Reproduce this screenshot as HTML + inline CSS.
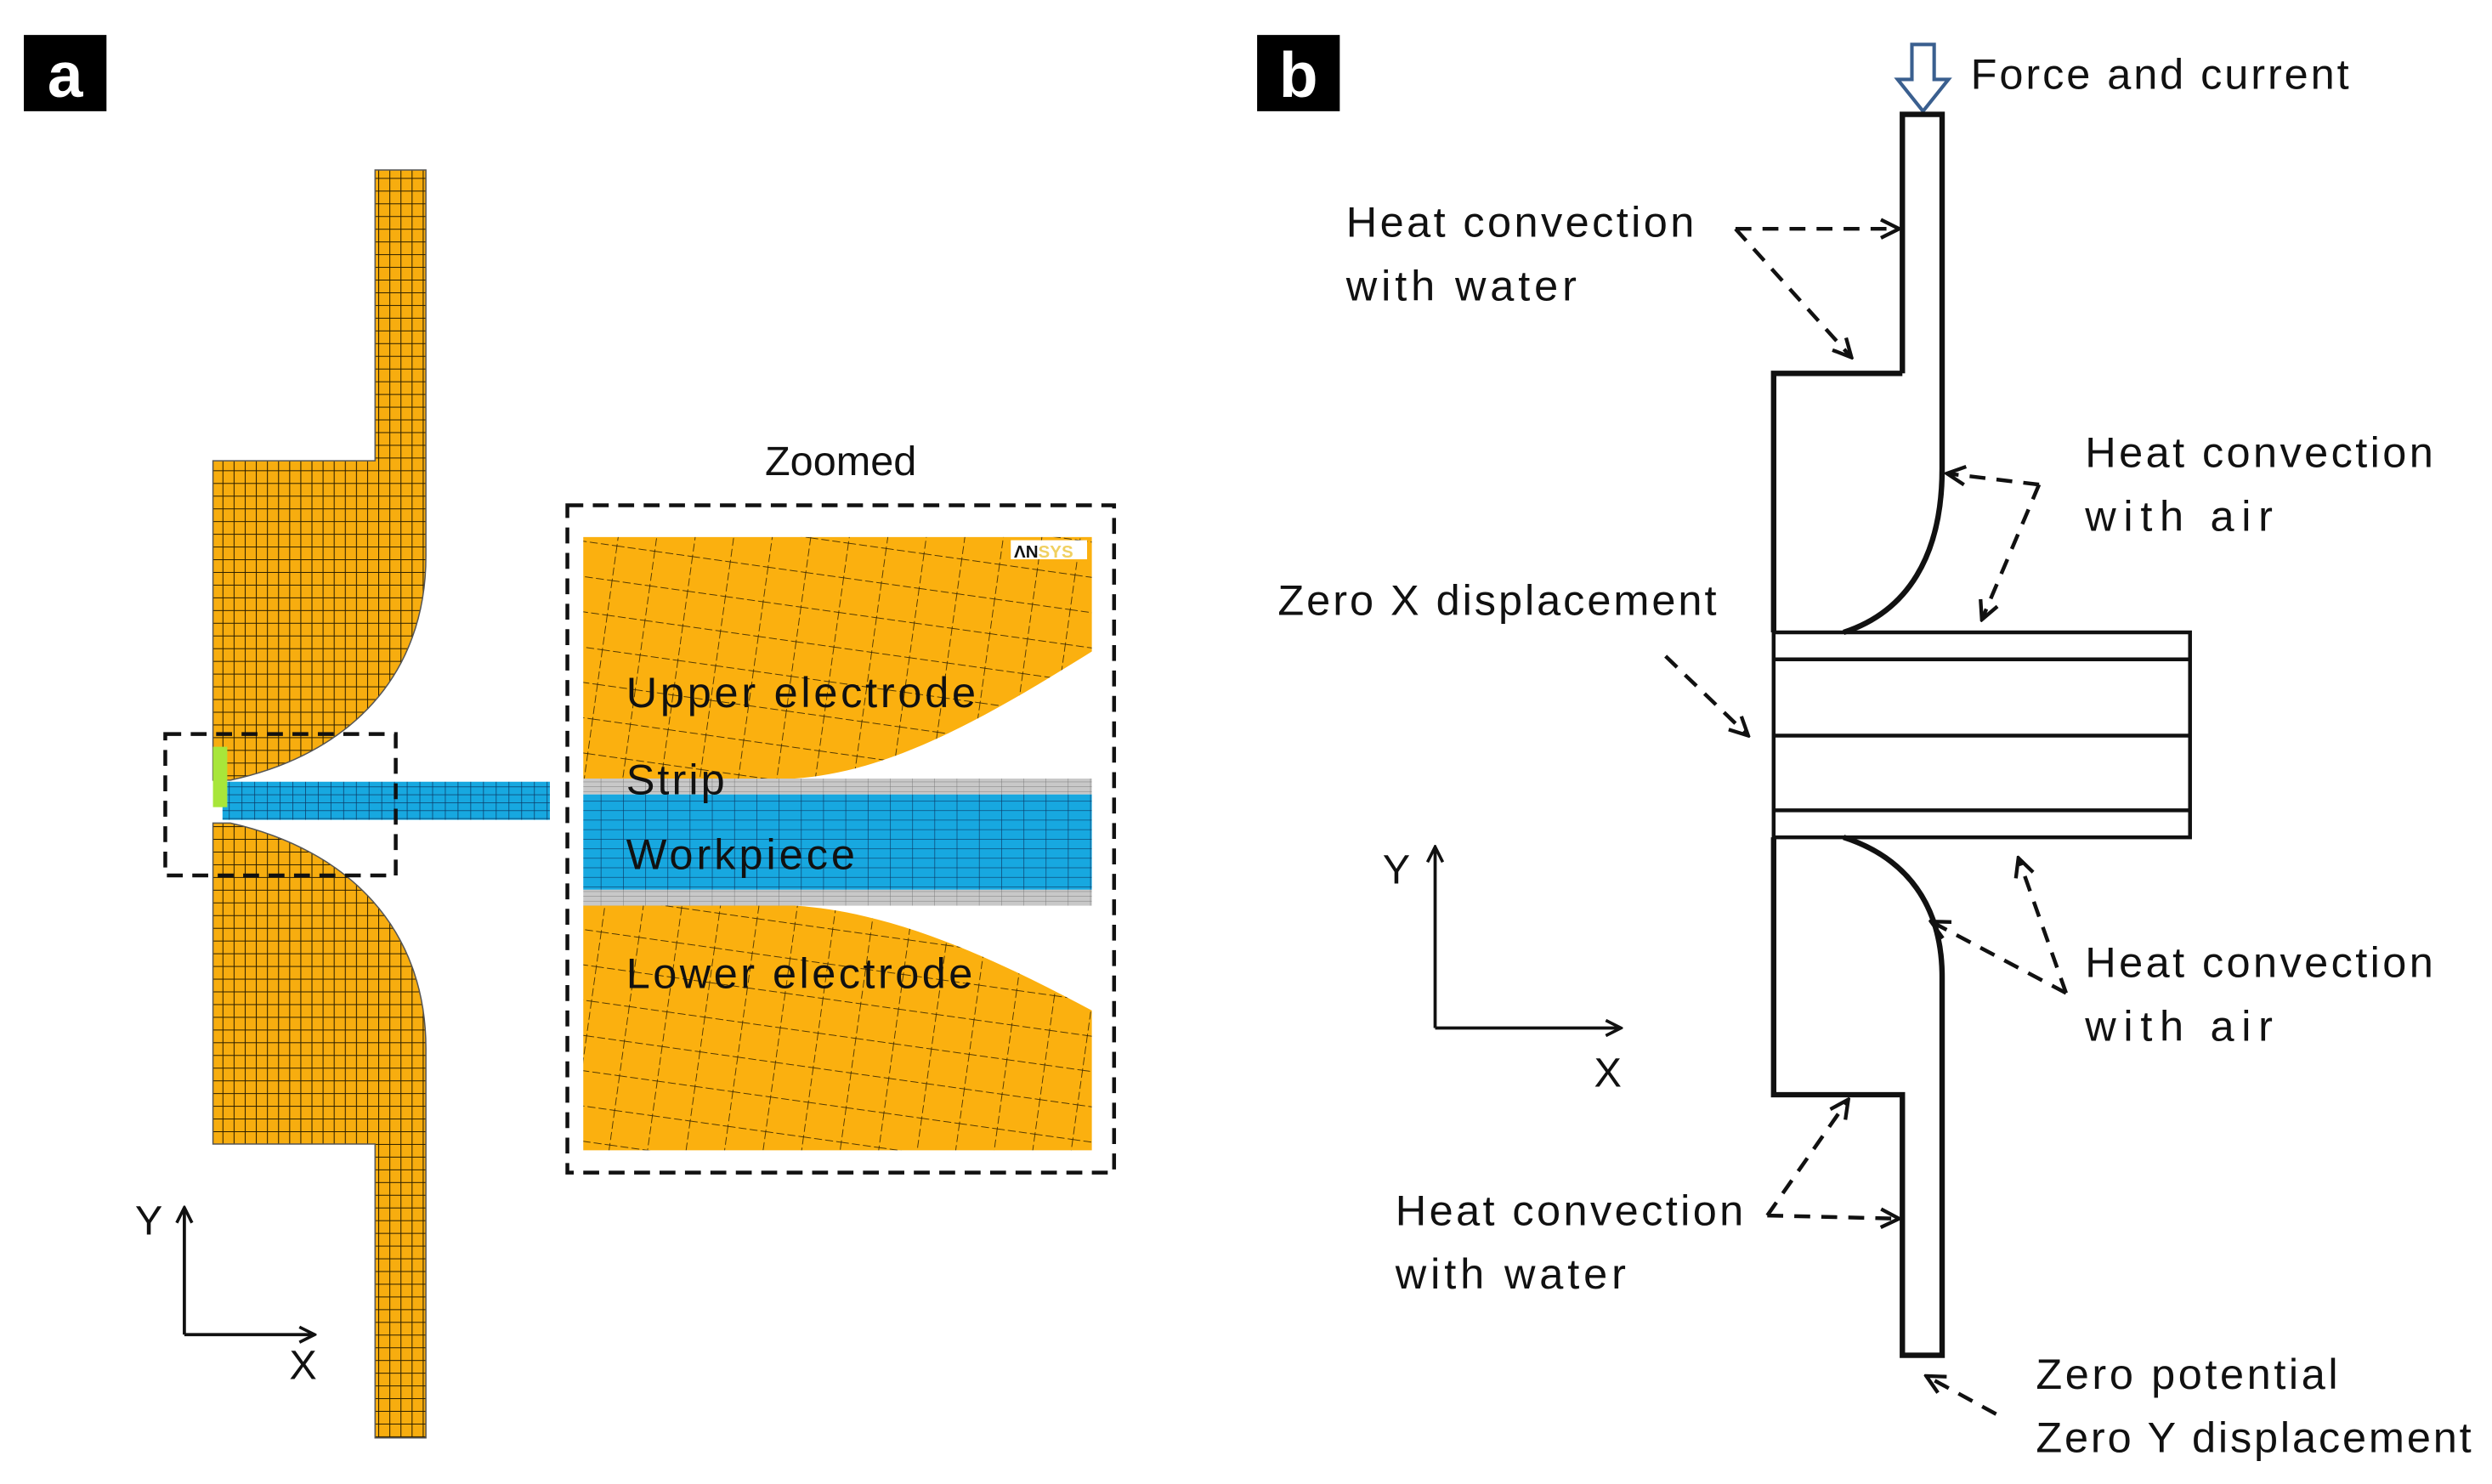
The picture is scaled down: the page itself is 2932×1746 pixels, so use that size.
<!DOCTYPE html>
<html><head><meta charset="utf-8"><style>
html,body{margin:0;padding:0;background:#fff;}
svg{display:block;}
text{font-family:"Liberation Sans",sans-serif;fill:#111;}
</style></head><body>
<svg width="2932" height="1746" viewBox="0 0 1568 934" preserveAspectRatio="none" xmlns="http://www.w3.org/2000/svg">
<defs>
<pattern id="m1" width="7" height="8" patternUnits="userSpaceOnUse">
<rect width="7" height="8" fill="#f7ad0f"/>
<path d="M0 0H7M0 0V8" stroke="#2a1e00" stroke-width="1.1"/>
</pattern>
<pattern id="m2" width="24" height="22" patternUnits="userSpaceOnUse" patternTransform="rotate(8)">
<rect width="24" height="22" fill="#fbb00f"/>
<path d="M0 0H24M0 0V22" stroke="#3a2800" stroke-width="0.9" stroke-dasharray="5 2"/>
</pattern>
<pattern id="mb" width="8" height="5" patternUnits="userSpaceOnUse">
<rect width="8" height="5" fill="#17a8e0"/>
<path d="M0 0H8M0 0V5" stroke="#0b3a66" stroke-width="0.8"/>
</pattern>
<pattern id="mb2" width="14" height="6" patternUnits="userSpaceOnUse">
<rect width="14" height="6" fill="#17a8e0"/>
<path d="M0 0H14M0 0V6" stroke="#0b3a66" stroke-width="0.7"/>
</pattern>
<pattern id="mg" width="14" height="3" patternUnits="userSpaceOnUse">
<rect width="14" height="3" fill="#c8c8c8"/>
<path d="M0 0H14M0 0V3" stroke="#777" stroke-width="0.5"/>
</pattern>
<marker id="ar" viewBox="0 0 10 10" refX="9" refY="5" markerWidth="6" markerHeight="6" orient="auto">
<path d="M1 1L9 5L1 9" fill="none" stroke="#111" stroke-width="1.6"/>
</marker>
</defs>

<!-- Panel a -->
<rect x="15" y="22" width="52" height="48" fill="#000"/>
<text x="41" y="61" font-size="40" font-weight="bold" text-anchor="middle" style="fill:#fff">a</text>

<path d="M236,107 H268 V350 C268,425 220,475 145,491 H134 V290 H236 Z" fill="url(#m1)" stroke="#555" stroke-width="0.8"/>
<path d="M134,518 H145 C220,535 268,585 268,660 V905 H236 V720 H134 Z" fill="url(#m1)" stroke="#555" stroke-width="0.8"/>
<rect x="140" y="492" width="206" height="24" fill="url(#mb)"/>
<rect x="134" y="470" width="9" height="38" fill="#a8e63a"/>
<rect x="104" y="462" width="145" height="89" fill="none" stroke="#111" stroke-width="2.4" stroke-dasharray="10 6"/>

<text x="529" y="299" font-size="26" text-anchor="middle">Zoomed</text>
<rect x="357" y="318" width="344" height="420" fill="none" stroke="#111" stroke-width="2.4" stroke-dasharray="10 6"/>
<path d="M367,338 H687 V410 C620,452 560,486 500,490 H367 Z" fill="url(#m2)"/>
<path d="M367,570 H500 C560,574 620,600 687,636 V724 H367 Z" fill="url(#m2)"/>
<rect x="367" y="490" width="320" height="10" fill="url(#mg)"/>
<rect x="367" y="500" width="320" height="60" fill="url(#mb2)"/>
<rect x="367" y="560" width="320" height="10" fill="url(#mg)"/>
<rect x="636" y="340" width="48" height="12" fill="#fff"/>
<text x="638" y="351" font-size="11" font-weight="bold">ΛN<tspan style="fill:#f0d060">SYS</tspan></text>
<text x="394" y="445" font-size="27" textLength="220">Upper electrode</text>
<text x="394" y="500" font-size="27" textLength="62">Strip</text>
<text x="394" y="547" font-size="27" textLength="144">Workpiece</text>
<text x="394" y="622" font-size="27" textLength="218">Lower electrode</text>

<line x1="116" y1="840" x2="116" y2="760" stroke="#111" stroke-width="2" marker-end="url(#ar)"/>
<line x1="116" y1="840" x2="198" y2="840" stroke="#111" stroke-width="2" marker-end="url(#ar)"/>
<text x="85" y="777" font-size="26">Y</text>
<text x="182" y="868" font-size="26">X</text>

<!-- Panel b -->
<rect x="791" y="22" width="52" height="48" fill="#000"/>
<text x="817" y="61" font-size="40" font-weight="bold" text-anchor="middle" style="fill:#fff">b</text>

<path d="M1203,28 H1217 V50 H1226 L1210,70 L1194,50 H1203 Z" fill="#fff" stroke="#3a5f8f" stroke-width="2.2"/>
<text x="1240" y="56" font-size="27" textLength="238">Force and current</text>

<g fill="none" stroke="#111" stroke-width="3.4">
<path d="M1197,235 V72 H1222 V295 C1222,350 1200,385 1160,398"/>
<path d="M1197,235 H1116 V398"/>
<path d="M1160,527 C1200,540 1222,570 1222,615 V853 H1197 V689 H1116 V527"/>
</g>
<g fill="none" stroke="#111" stroke-width="2.4">
<rect x="1116" y="398" width="262" height="129"/>
<line x1="1116" y1="415" x2="1378" y2="415"/>
<line x1="1116" y1="463" x2="1378" y2="463"/>
<line x1="1116" y1="510" x2="1378" y2="510"/>
</g>

<g stroke="#111" stroke-width="2.4" stroke-dasharray="10 7" fill="none" marker-end="url(#ar)">
<line x1="1092" y1="144" x2="1195" y2="144"/>
<line x1="1092" y1="144" x2="1165" y2="225"/>
<line x1="1283" y1="305" x2="1225" y2="298"/>
<line x1="1283" y1="305" x2="1247" y2="390"/>
<line x1="1048" y1="413" x2="1100" y2="463"/>
<line x1="1300" y1="625" x2="1270" y2="540"/>
<line x1="1300" y1="625" x2="1215" y2="580"/>
<line x1="1112" y1="765" x2="1163" y2="692"/>
<line x1="1112" y1="765" x2="1195" y2="767"/>
<line x1="1256" y1="890" x2="1212" y2="866"/>
</g>

<g font-size="27">
<text x="847" y="149" textLength="219">Heat convection</text>
<text x="847" y="189" textLength="145">with water</text>
<text x="1312" y="294" textLength="219">Heat convection</text>
<text x="1312" y="334" textLength="118">with air</text>
<text x="804" y="387" textLength="276">Zero X displacement</text>
<text x="1312" y="615" textLength="219">Heat convection</text>
<text x="1312" y="655" textLength="118">with air</text>
<text x="878" y="771" textLength="219">Heat convection</text>
<text x="878" y="811" textLength="145">with water</text>
<text x="1281" y="874" textLength="190">Zero potential</text>
<text x="1281" y="914" textLength="274">Zero Y displacement</text>
</g>

<line x1="903" y1="647" x2="903" y2="533" stroke="#111" stroke-width="2" marker-end="url(#ar)"/>
<line x1="903" y1="647" x2="1020" y2="647" stroke="#111" stroke-width="2" marker-end="url(#ar)"/>
<text x="870" y="556" font-size="26">Y</text>
<text x="1003" y="684" font-size="26">X</text>
</svg>
</body></html>
